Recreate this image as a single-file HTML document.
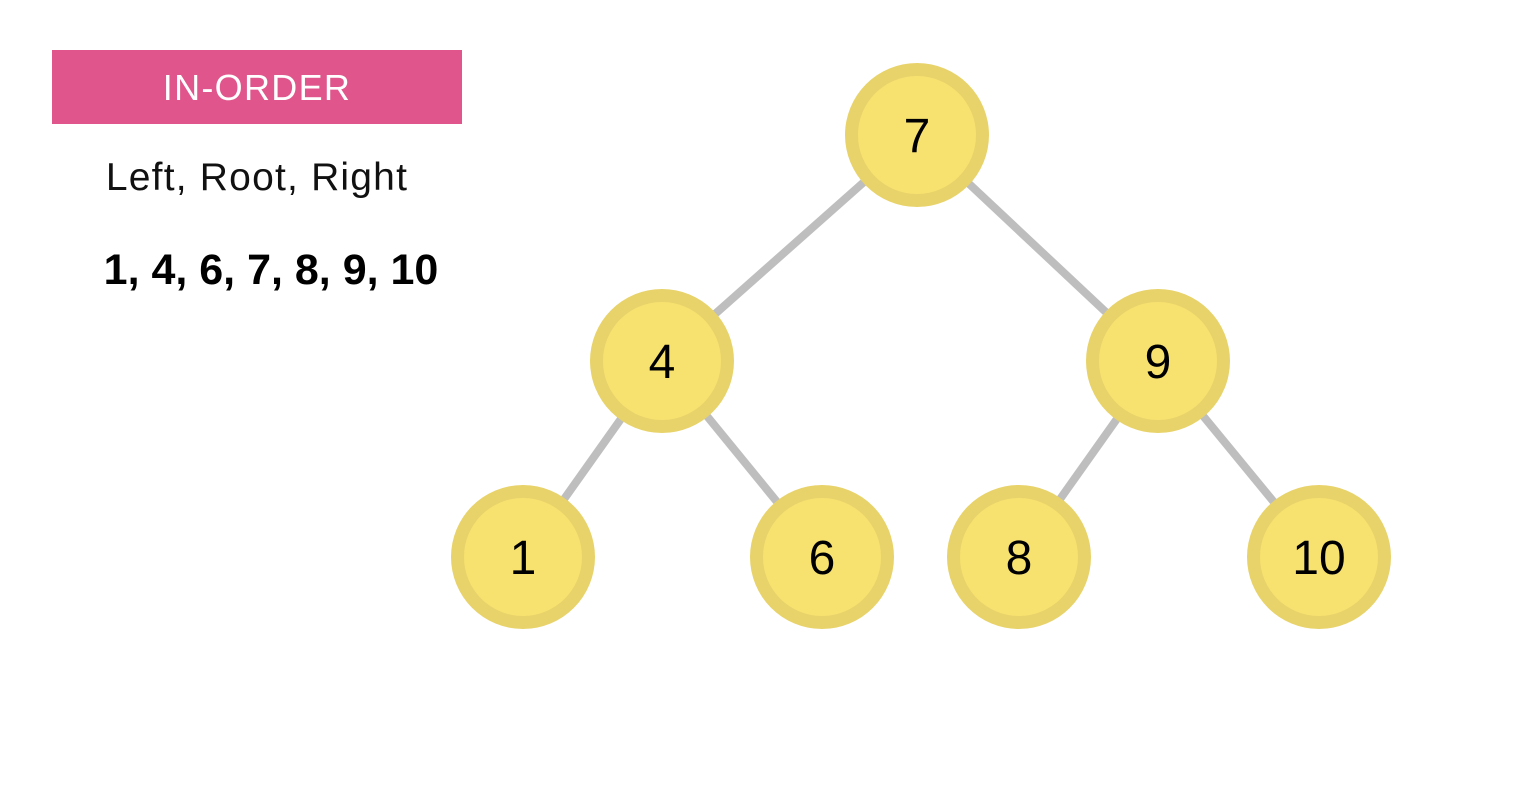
<!DOCTYPE html>
<html><head><meta charset="utf-8">
<style>
html,body{margin:0;padding:0;background:#fff;}
body{width:1518px;height:794px;position:relative;overflow:hidden;font-family:"Liberation Sans","DejaVu Sans",sans-serif;}
#badge{position:absolute;left:52px;top:50px;width:410px;height:74px;background:#E0568C;color:#fff;font-size:36px;line-height:76px;text-align:center;letter-spacing:1.3px;}
#rule{position:absolute;left:52px;top:156px;width:410px;text-align:center;font-size:39px;color:#111;letter-spacing:1.2px;}
#seq{position:absolute;left:66px;top:246px;width:410px;text-align:center;font-size:43px;font-weight:bold;color:#000;}
svg{position:absolute;left:0;top:0;}
</style></head><body>
<div id="badge">IN-ORDER</div>
<div id="rule">Left, Root, Right</div>
<div id="seq">1, 4, 6, 7, 8, 9, 10</div>
<svg id="tree" width="1518" height="794"></svg>
<script>
const nodeValues = [7, 4, 9, 1, 6, 8, 10];
const parentIndex = [-1, 0, 0, 1, 1, 2, 2];
const nodeX = [917, 662, 1158, 523, 822, 1019, 1319];
const nodeY = [135, 361, 361, 557, 557, 557, 557];
const NS = "http://www.w3.org/2000/svg";
const svg = document.getElementById('tree');
for (let i = 0; i < nodeValues.length; i++) {
  const p = parentIndex[i];
  if (p < 0) continue;
  const l = document.createElementNS(NS, 'line');
  l.setAttribute('x1', nodeX[p]); l.setAttribute('y1', nodeY[p]);
  l.setAttribute('x2', nodeX[i]); l.setAttribute('y2', nodeY[i]);
  l.setAttribute('stroke', '#BEBEBE'); l.setAttribute('stroke-width', '8');
  
  
  svg.appendChild(l);
}
for (let i = 0; i < nodeValues.length; i++) {
  const g = document.createElementNS(NS, 'g');
  
  
  const o = document.createElementNS(NS, 'circle');
  o.setAttribute('cx', nodeX[i]); o.setAttribute('cy', nodeY[i]); o.setAttribute('r', 72);
  o.setAttribute('fill', '#E8D36A');
  g.appendChild(o);
  const c = document.createElementNS(NS, 'circle');
  c.setAttribute('cx', nodeX[i]); c.setAttribute('cy', nodeY[i]); c.setAttribute('r', 59);
  c.setAttribute('fill', '#F7E270');
  g.appendChild(c);
  const t = document.createElementNS(NS, 'text');
  t.setAttribute('x', nodeX[i]); t.setAttribute('y', nodeY[i] + 17);
  t.setAttribute('text-anchor', 'middle');
  t.setAttribute('font-family', '"Liberation Sans", sans-serif');
  t.setAttribute('font-size', '48');
  t.setAttribute('fill', '#000');
  t.textContent = nodeValues[i];
  g.appendChild(t);
  svg.appendChild(g);
}
</script>
</body></html>
